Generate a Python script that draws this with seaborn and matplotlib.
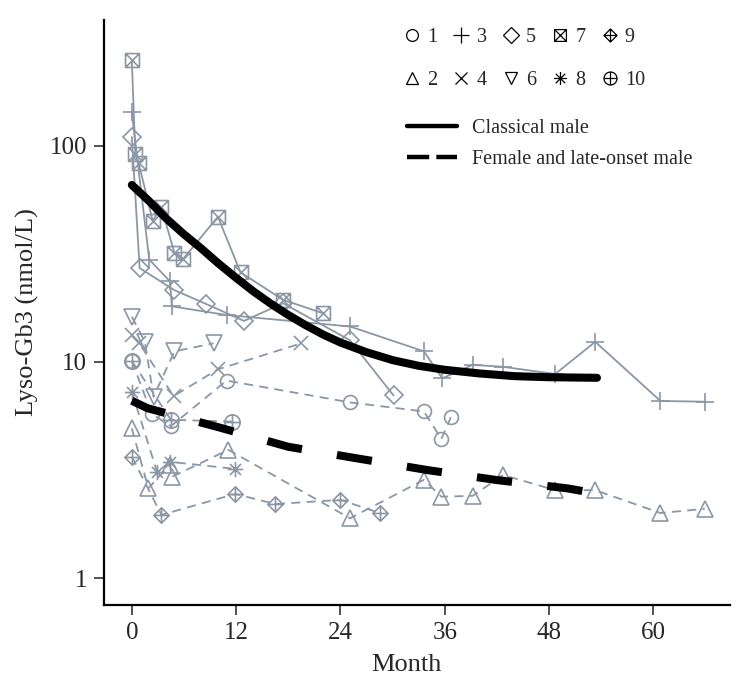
import numpy as np
import pandas as pd
import matplotlib
matplotlib.use("Agg")
import matplotlib.pyplot as plt
import seaborn as sns
from matplotlib.path import Path
from matplotlib.lines import Line2D

# ---------------- data ----------------
p1_month = [0, 2.3, 4.5, 10.9, 25.1, 33.6, 35.6, 36.7]
p1_value = [10.1, 5.75, 5.05, 8.2, 6.5, 5.9, 4.4, 5.55]
p2_month = [0, 1.9, 4.4, 4.6, 11.1, 25.1, 33.6, 35.6, 39.2, 42.7, 48.7, 53.3, 60.8, 65.9]
p2_value = [4.93, 2.6, 3.35, 2.94, 3.92, 1.89, 2.85, 2.38, 2.4, 3.0, 2.55, 2.55, 2.0, 2.09]
p3_month = [0, 2.0, 4.4, 4.6, 10.9, 25.1, 33.6, 35.7, 39.2, 42.7, 48.7, 53.3, 60.8, 65.9]
p3_value = [143, 29.8, 23.6, 18.1, 16.5, 14.6, 11.2, 8.4, 9.7, 9.5, 8.8, 12.4, 6.6, 6.55]
p4_month = [0, 0.8, 4.8, 9.9, 19.5]
p4_value = [13.3, 12.3, 6.95, 9.25, 12.2]
p5_month = [0, 0.9, 4.9, 8.5, 12.9, 17.4, 25.1, 30.1]
p5_value = [110, 27.2, 21.5, 18.6, 15.5, 18.7, 12.6, 7.0]
p6_month = [0, 1.5, 2.5, 4.9, 9.4]
p6_value = [16.2, 12.4, 6.9, 11.2, 12.2]
p7_month = [0, 0.4, 0.8, 2.4, 3.4, 4.9, 5.9, 9.9, 12.5, 17.4, 22.0]
p7_value = [250, 92, 83, 45, 52, 32, 30, 47, 26, 19.4, 16.8]
p8_month = [0, 2.9, 4.4, 11.9]
p8_value = [7.3, 3.1, 3.45, 3.2]
p9_month = [0, 3.4, 11.9, 16.5, 24.0, 28.5]
p9_value = [3.65, 1.96, 2.45, 2.2, 2.3, 2.0]
p10_month = [0, 4.5, 11.5]
p10_value = [10.1, 5.4, 5.3]

classical_month = [0, 2, 4, 6, 8, 10, 12, 14, 16, 18, 20, 22, 24, 27, 30, 33, 36, 40, 44, 48, 53.5]
classical_value = [66, 55.5, 46, 39, 33.5, 28.5, 24.5, 21.2, 18.6, 16.5, 14.8, 13.4, 12.3,
                   11.1, 10.2, 9.6, 9.2, 8.85, 8.6, 8.5, 8.45]
female_month = [0, 1.8, 9.8, 18.0, 25.9, 34.0, 42.0, 50.1, 53.0]
female_value = [6.62, 6.11, 5.01, 4.05, 3.58, 3.16, 2.84, 2.60, 2.48]

patient_labels = ["1", "2", "3", "4", "5", "6", "7", "8", "9", "10"]
curve_labels = ["Classical male", "Female and late-onset male"]

# ---------------- markers ----------------
M, L, C = Path.MOVETO, Path.LINETO, Path.CLOSEPOLY
sq = Path([(-1, -1), (1, -1), (1, 1), (-1, 1), (-1, -1)], [M, L, L, L, C])
dia = Path([(0, -1), (1, 0), (0, 1), (-1, 0), (0, -1)], [M, L, L, L, C])
d1 = Path([(-1, -1), (1, 1)], [M, L])
d2 = Path([(-1, 1), (1, -1)], [M, L])
hz = Path([(-1, 0), (1, 0)], [M, L])
vt = Path([(0, -1), (0, 1)], [M, L])
sq_x = Path.make_compound_path(sq, d1, d2)
dia_plus = Path.make_compound_path(dia, hz, vt)
circ_plus = Path.make_compound_path(Path.unit_circle(), hz, vt)
r = 0.72
ast = Path.make_compound_path(hz, vt,
                              Path([(-r, -r), (r, r)], [M, L]),
                              Path([(-r, r), (r, -r)], [M, L]))

markers = ["o", "^", "+", "x", "D", "v", sq_x, ast, dia_plus, circ_plus]
msizes = [10, 11, 13, 10, 9, 11, 10, 11, 11, 11]
solid = [False, False, True, False, True, False, True, False, False, False]

months = [p1_month, p2_month, p3_month, p4_month, p5_month,
          p6_month, p7_month, p8_month, p9_month, p10_month]
values = [p1_value, p2_value, p3_value, p4_value, p5_value,
          p6_value, p7_value, p8_value, p9_value, p10_value]

# ---------------- figure ----------------
sns.set_style("ticks")
plt.rcParams["font.family"] = ["Liberation Serif", "DejaVu Serif"]

fig = plt.figure(figsize=(7.5, 6.88), dpi=100)
ax = fig.add_axes([104 / 750, 83 / 688, (730 - 104) / 750, 585 / 688])

gray = "#8b97a5"
for i in range(10):
    df = pd.DataFrame({"Month": months[i], "Value": values[i]})
    ls = "-" if solid[i] else (0, (5, 3.5))
    sns.lineplot(data=df, x="Month", y="Value", ax=ax, estimator=None, sort=False,
                 color=gray, linewidth=1.3, linestyle=ls,
                 marker=markers[i], markersize=msizes[i],
                 markerfacecolor="none", markeredgecolor=gray, markeredgewidth=1.2,
                 zorder=2)

cdf = pd.DataFrame({"Month": classical_month, "Value": classical_value})
sns.lineplot(data=cdf, x="Month", y="Value", ax=ax, estimator=None, sort=False,
             color="black", linewidth=5.8, zorder=3)
fdf = pd.DataFrame({"Month": female_month, "Value": female_value})
sns.lineplot(data=fdf, x="Month", y="Value", ax=ax, estimator=None, sort=False,
             color="black", linewidth=5.8, linestyle=(0, (4.4, 4.4)), zorder=3)

ax.set_yscale("log")
ax.set_ylim(0.75, 383)
ax.set_xlim(-3.2, 68.8)
ax.set_yticks([1, 10, 100])
ax.set_yticklabels(["1", "10", "100"])
ax.yaxis.set_minor_locator(matplotlib.ticker.NullLocator())
ax.set_xticks([0, 12, 24, 36, 48, 60])
ax.tick_params(axis="both", which="major", labelsize=18, length=7, width=1.2,
               direction="out", pad=5, color="#333333")
sns.despine(ax=ax)
for s in ["left", "bottom"]:
    ax.spines[s].set_linewidth(1.6)
    ax.spines[s].set_color("black")
ax.set_xlabel("Month", fontsize=19, labelpad=8)
ax.set_ylabel("Lyso-Gb3 (nmol/L)", fontsize=19, labelpad=8)
ax.xaxis.set_label_coords((406 - 104) / 626, -0.083)

# ---------------- legends ----------------
handles = [Line2D([], [], linestyle="none", marker=markers[i],
                  markersize=msizes[i] * 0.85, markerfacecolor="none",
                  markeredgecolor="black", markeredgewidth=0.9)
           for i in range(10)]
leg1 = ax.legend(handles, patient_labels, ncol=5, loc="upper left",
                 bbox_to_anchor=(406 / 750, 1 - 28 / 688),
                 bbox_transform=fig.transFigure, frameon=False,
                 fontsize=14.5, handlelength=0.6, handletextpad=0.45,
                 columnspacing=0.9, labelspacing=1.2, borderpad=0,
                 borderaxespad=0)
ax.add_artist(leg1)

ch = [Line2D([], [], color="black", linewidth=3.2),
      Line2D([], [], color="black", linewidth=3.2, linestyle=(0, (5, 1.6)))]
ax.legend(ch, curve_labels, loc="upper left",
          bbox_to_anchor=(407 / 750, 1 - 119 / 688),
          bbox_transform=fig.transFigure, frameon=False,
          fontsize=14.5, handlelength=2.5, handletextpad=0.75,
          labelspacing=0.6, borderpad=0, borderaxespad=0)

fig.savefig("out.png", dpi=100)
